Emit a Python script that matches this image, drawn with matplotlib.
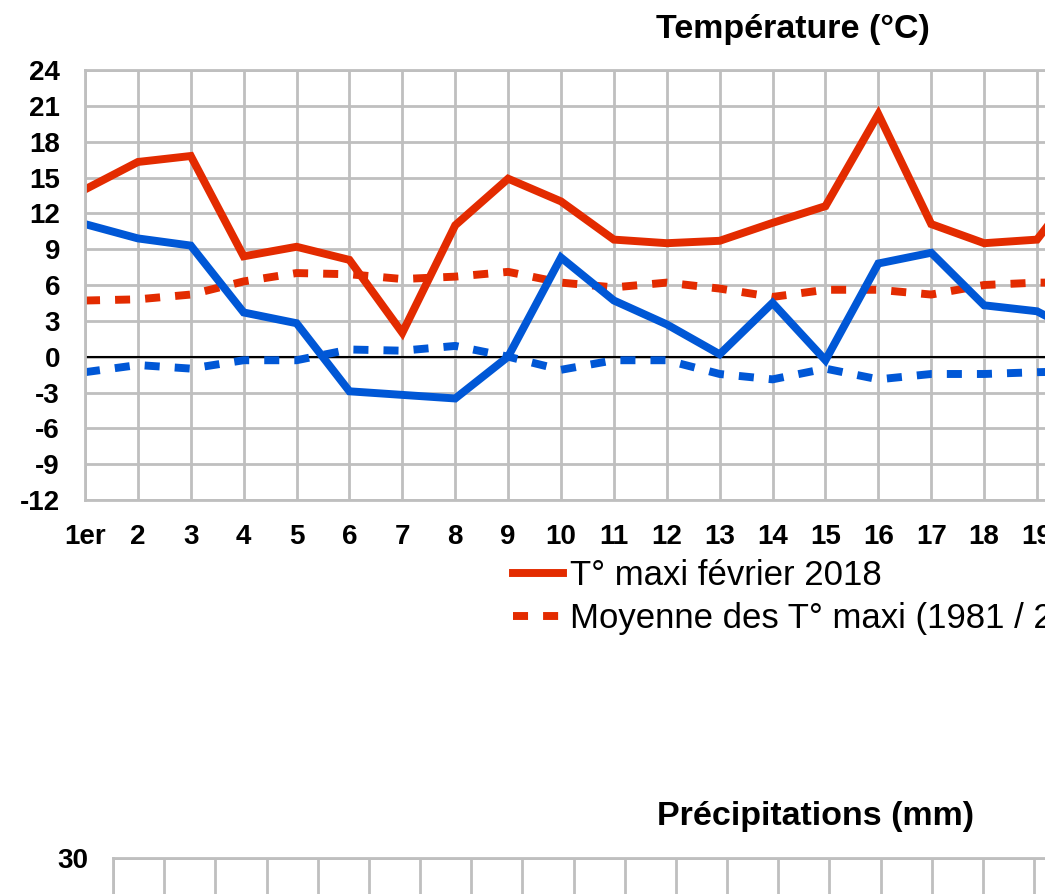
import matplotlib

matplotlib.use("Agg")
import matplotlib.pyplot as plt
from matplotlib.patches import Rectangle

plt.rcParams["font.family"] = ["Liberation Sans", "DejaVu Sans"]
plt.rcParams["axes.unicode_minus"] = False

W, H = 1061, 894

# day labels (February 2018 has 28 days)
DAYS = ["1er"] + [str(d) for d in range(2, 29)]

# temperatures (days 1-20, the rest is cut off in the picture)
tmax_2018 = [14.0, 16.3, 16.8, 8.4, 9.2, 8.1, 2.0, 11.0, 14.9, 13.0,
             9.8, 9.5, 9.7, 11.2, 12.6, 20.3, 11.1, 9.5, 9.8, 15.5]
tmax_normal = [4.7, 4.8, 5.2, 6.3, 7.0, 6.9, 6.5, 6.7, 7.1, 6.2,
               5.8, 6.2, 5.7, 5.0, 5.6, 5.6, 5.2, 6.0, 6.2, 6.2]
tmin_2018 = [11.1, 9.9, 9.3, 3.7, 2.8, -2.9, -3.2, -3.5, 0.0, 8.3,
             4.7, 2.7, 0.2, 4.5, -0.3, 7.8, 8.7, 4.3, 3.8, 1.5]
tmin_normal = [-1.3, -0.7, -1.0, -0.3, -0.3, 0.6, 0.5, 0.9, 0.0, -1.1,
               -0.3, -0.3, -1.45, -1.9, -1.0, -1.9, -1.45, -1.45, -1.3, -1.2]

TEMP_TICKS = list(range(-12, 25, 3))
RAIN_TICKS = list(range(0, 31, 5))

RED = "#e32b00"
BLUE = "#0057d6"
GRID = "#bfbfbf"
DASH = (0, (1.9, 1.9))


def px_axes(fig, left, top, width, height):
    return fig.add_axes([left / W, 1 - (top + height) / H, width / W, height / H])


def style_axes(ax):
    ax.grid(True, color=GRID, lw=2.0)
    ax.set_axisbelow(True)
    for sp in ax.spines.values():
        sp.set_color(GRID)
        sp.set_linewidth(2.0)
    ax.tick_params(length=0, labelsize=20)
    for lab in ax.get_xticklabels() + ax.get_yticklabels():
        lab.set_fontweight("bold")


fig = plt.figure(figsize=(W / 100, H / 100), dpi=100)

# --- temperatures ---
ax = px_axes(fig, 85, 70, 1428, 430)
x = list(range(len(DAYS)))
n = len(tmax_2018)
l1, = ax.plot(x[:n], tmax_2018, color=RED, lw=5.7, solid_joinstyle="miter",
              label="T° maxi février 2018")
l2, = ax.plot(x[:n], tmax_normal, color=RED, lw=5.7, ls=DASH, dash_capstyle="butt",
              label="Moyenne des T° maxi (1981 / 2010)")
ax.plot(x[:n], tmin_2018, color=BLUE, lw=5.7, solid_joinstyle="miter")
ax.plot(x[:n], tmin_normal, color=BLUE, lw=5.7, ls=DASH, dash_capstyle="butt")
ax.axhline(0, color="black", lw=1.5, zorder=1.5)
ax.set_xlim(0, len(DAYS) - 1)
ax.set_ylim(-12, 24)
ax.set_xticks(x, DAYS)
ax.set_yticks(TEMP_TICKS)
style_axes(ax)
ax.tick_params(axis="x", pad=17)
ax.tick_params(axis="y", pad=18)
ax.set_title("Température (°C)", fontsize=24.5, fontweight="bold", pad=23, x=0.496)

fig.legend(handles=[l1, l2], loc="upper left", bbox_to_anchor=(513 / W, 1 - 559 / H),
           frameon=False, borderpad=0, borderaxespad=0, handlelength=1.45,
           handletextpad=0.2, labelspacing=0.3, fontsize=25)

# --- precipitation (only its top edge is inside the picture) ---
ax2 = px_axes(fig, 113, 858, 1433, 430)
ax2.set_xlim(0, len(DAYS))
ax2.set_ylim(0, 30)
ax2.set_xticks(range(len(DAYS) + 1), [])
ax2.set_yticks(RAIN_TICKS)
style_axes(ax2)
ax2.tick_params(axis="y", pad=18)
ax2.set_title("Précipitations (mm)", fontsize=24.5, fontweight="bold", pad=24, x=0.4906)

# the source picture is cropped: blank strip along the right edge
fig.add_artist(Rectangle((1045 / W, 0), 1 - 1045 / W, 1, transform=fig.transFigure,
                         facecolor="white", edgecolor="none", zorder=10))

fig.savefig("out.png", dpi=100)
